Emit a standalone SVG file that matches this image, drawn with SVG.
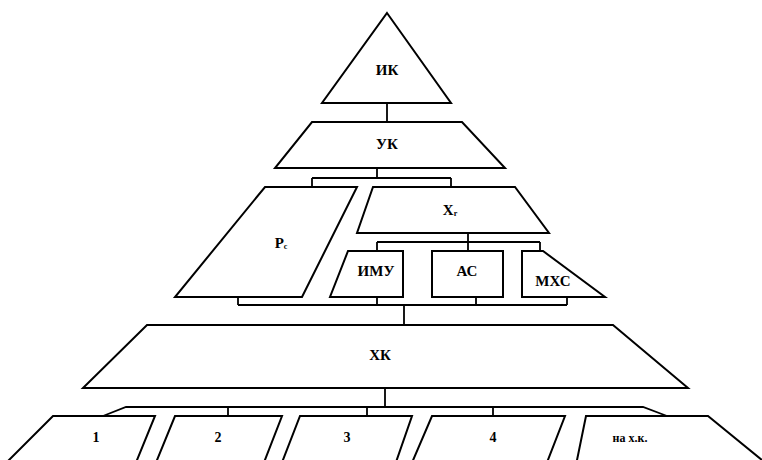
<svg xmlns="http://www.w3.org/2000/svg" width="762" height="460" viewBox="0 0 762 460">
<style>
.s{fill:#fff;stroke:#000;stroke-width:2;stroke-linejoin:miter}
.o{fill:none;stroke:#000;stroke-width:2}
.c{fill:none;stroke:#000;stroke-width:1.8}
text{font-family:"Liberation Serif","Times New Roman",serif;font-weight:bold;font-size:15px;text-anchor:middle;dominant-baseline:central;fill:#000}
.n{font-size:14px}
.sm{font-size:12px}
.sub{font-size:8px}
</style>
<rect width="762" height="460" fill="#fff"/>
<g id="connectors">
<path class="c" d="M387 103V122"/>
<path class="c" d="M377 168V178M312 178H451M312 178V187M451 178V187"/>
<path class="c" d="M468 233V242M377 242H540M377 242V251M468 242V251M540 242V251"/>
<path class="c" d="M238 297V305M377 297V305M476 297V305M567 297V305M238 305H567M404 305V325"/>
<path class="c" d="M385 388V407M103 416L126 407H643L667 416M228 407V416M367 407V416M493 407V416"/>
</g>
<g id="ik"><polygon class="s" points="387,13 451,103 322,103"/><text x="387" y="70">ИК</text></g>
<g id="uk"><polygon class="s" points="312,122 462,122 505,168 275,168"/><text x="387" y="144">УК</text></g>
<g id="pc"><polygon class="s" points="265,187 357,187 302,297 175,297"/><text x="281" y="243">P<tspan class="sub" dy="3">c</tspan></text></g>
<g id="xr"><polygon class="s" points="373,187 515,187 549,233 357,233"/><text x="450" y="210">X<tspan class="sub" dy="3">r</tspan></text></g>
<g id="imu"><polygon class="s" points="348,251 403,251 403,297 330,297"/><text x="376" y="271">ИМУ</text></g>
<g id="as"><rect class="s" x="432" y="251" width="71" height="46"/><text x="467" y="271">АС</text></g>
<g id="mhs"><polygon class="s" points="522,251 543,251 605,297 522,297"/><text x="553" y="281">МХС</text></g>
<g id="hk"><polygon class="s" points="147,325 613,325 688,388 83,388"/><text x="380" y="355">ХК</text></g>
<g id="b1"><path class="o" d="M4 465L53 416H155L135 465"/><text class="n" x="96" y="437">1</text></g>
<g id="b2"><path class="o" d="M155 465L175 416H282L263 465"/><text class="n" x="218" y="437">2</text></g>
<g id="b3"><path class="o" d="M281 465L300 416H412L395 465"/><text class="n" x="347" y="437">3</text></g>
<g id="b4"><path class="o" d="M411 465L432 416H565L546 465"/><text class="n" x="493" y="437">4</text></g>
<g id="b5"><path class="o" d="M576 465L586 416H708L768 465"/><text class="sm" x="630" y="438">на х.к.</text></g>
</svg>
